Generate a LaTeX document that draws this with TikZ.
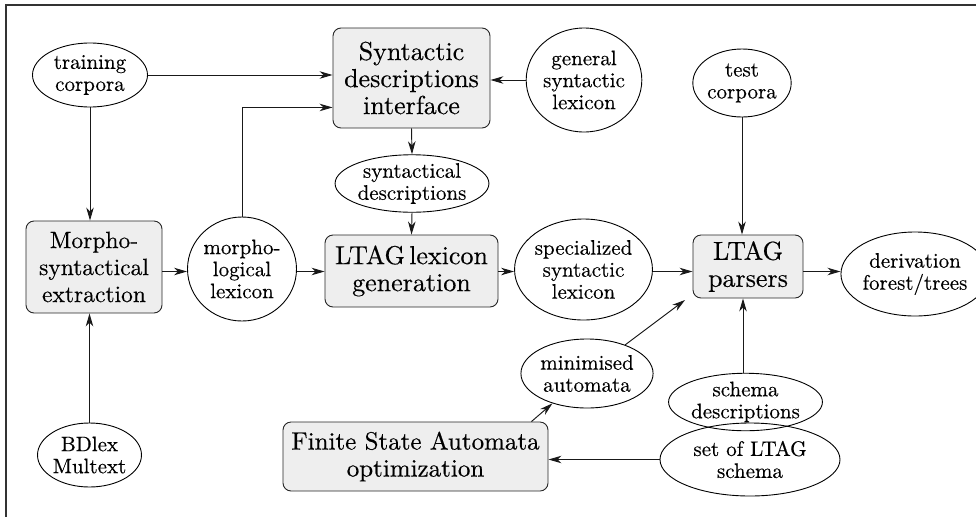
\documentclass[tikz,border=0pt]{standalone}
\usepackage{fontspec}
\setmainfont{lmroman10-regular}[Extension=.otf, FakeBold=0.35]
\usetikzlibrary{arrows.meta,shapes.geometric,calc}

\definecolor{boxfill}{HTML}{EEEEEE}

\tikzset{
  procbox/.style={draw=black!85, line width=0.9pt, fill=boxfill, rounded corners=8pt,
    inner sep=0pt, align=center, font=\rmfamily\fontsize{26}{27}\selectfont},
  databub/.style={draw=black, line width=0.9pt, ellipse, inner sep=0pt, align=center,
    font=\rmfamily\fontsize{21}{22}\selectfont},
  flow/.style={draw=black!90, line width=0.95pt,
    -{Stealth[length=13pt,width=7.5pt,inset=4pt]}},
}

\begin{document}
\begin{tikzpicture}[x=1pt,y=-1pt]
\useasboundingbox (0,0) rectangle (976,517);

% frame
\draw[line width=1.2pt, black!80] (976,5) -- (6,5) -- (6,517);

% process boxes
\node[procbox, minimum width=157pt, minimum height=100pt] (synt) at (411.5,78)
  {Syntactic\\descriptions\\interface};
\node[procbox, minimum width=136pt, minimum height=92pt,
  font=\rmfamily\fontsize{23.5}{27}\selectfont] (morpho) at (94,267)
  {Morpho-\\syntactical\\extraction};
\node[procbox, minimum width=173pt, minimum height=72pt] (lexgen) at (411.5,271)
  {LTAG\,lexicon\\generation};
\node[procbox, minimum width=110pt, minimum height=63pt] (parsers) at (748,266.5)
  {LTAG\\parsers};
\node[procbox, minimum width=265pt, minimum height=69pt,
  font=\rmfamily\fontsize{25}{27}\selectfont] (fsa) at (415.5,456.5)
  {Finite State Automata\\optimization};

% data ellipses
\node[databub, minimum width=115pt, minimum height=64pt] (train) at (90,75)
  {training\\corpora};
\node[databub, minimum width=111pt, minimum height=104pt] (gen) at (584,80)
  {general\\syntactic\\lexicon};
\node[databub, minimum width=94pt, minimum height=68pt] (test) at (742,83)
  {test\\corpora};
\node[databub, minimum width=136pt, minimum height=53pt] (sdesc) at (412,183.5)
  {syntactical\\descriptions};
\node[databub, minimum width=96pt, minimum height=104pt] (mlex) at (242,269)
  {morpho-\\logical\\lexicon};
\node[databub, minimum width=119pt, minimum height=101pt] (spec) at (583.5,269.5)
  {specialized\\syntactic\\lexicon};
\node[databub, minimum width=121pt, minimum height=84pt] (deriv) at (915,274)
  {derivation\\forest/trees};
\node[databub, minimum width=121pt, minimum height=69pt] (minim) at (587,373.5)
  {minimised\\automata};
\node[databub, minimum width=143pt, minimum height=56pt] (schema) at (745.5,402)
  {schema\\descriptions};
\node[databub, minimum width=180pt, minimum height=73pt] (setltag) at (750,459.5)
  {set of LTAG\\schema};
\node[databub, minimum width=95pt, minimum height=64pt] (bdlex) at (89.5,455)
  {BDlex\\Multext};

% helper points
\coordinate (hy) at (0,271.5);
\coordinate (sx) at (743,0);
\coordinate (mtop) at ($(synt.south west)+(0,-21)$);
\coordinate (pin) at (685,300);
\coordinate (fsatop) at ($(fsa.north east)+(-17,0)$);

% connectors
\draw[flow] (train.east) -- (train.east -| synt.west);
\draw[flow] (gen.west) -- (gen.west -| synt.east);
\draw[flow] (train.south) -- (train.south |- morpho.north);
\draw[flow] (bdlex.north) -- (bdlex.north |- morpho.south);
\draw[flow] (mlex.north) |- (mtop);
\draw[flow] (synt.south) -- (sdesc.north);
\draw[flow] (sdesc.south) -- (lexgen.north);
\draw[flow] (morpho.east |- hy) -- (mlex.west |- hy);
\draw[flow] (mlex.east |- hy) -- (lexgen.west |- hy);
\draw[flow] (lexgen.east |- hy) -- (spec.west |- hy);
\draw[flow] (spec.east |- hy) -- (parsers.west |- hy);
\draw[flow] (parsers.east |- hy) -- (deriv.west |- hy);
\draw[flow] (test.south) -- (test.south |- parsers.north);
\draw[flow] (schema.north -| sx) -- (parsers.south -| sx);
\draw[flow] (minim) -- (pin);
\draw[flow] (fsatop) -- (minim);
\draw[flow] (setltag.west) -- (setltag.west -| fsa.east);
\end{tikzpicture}
\end{document}
